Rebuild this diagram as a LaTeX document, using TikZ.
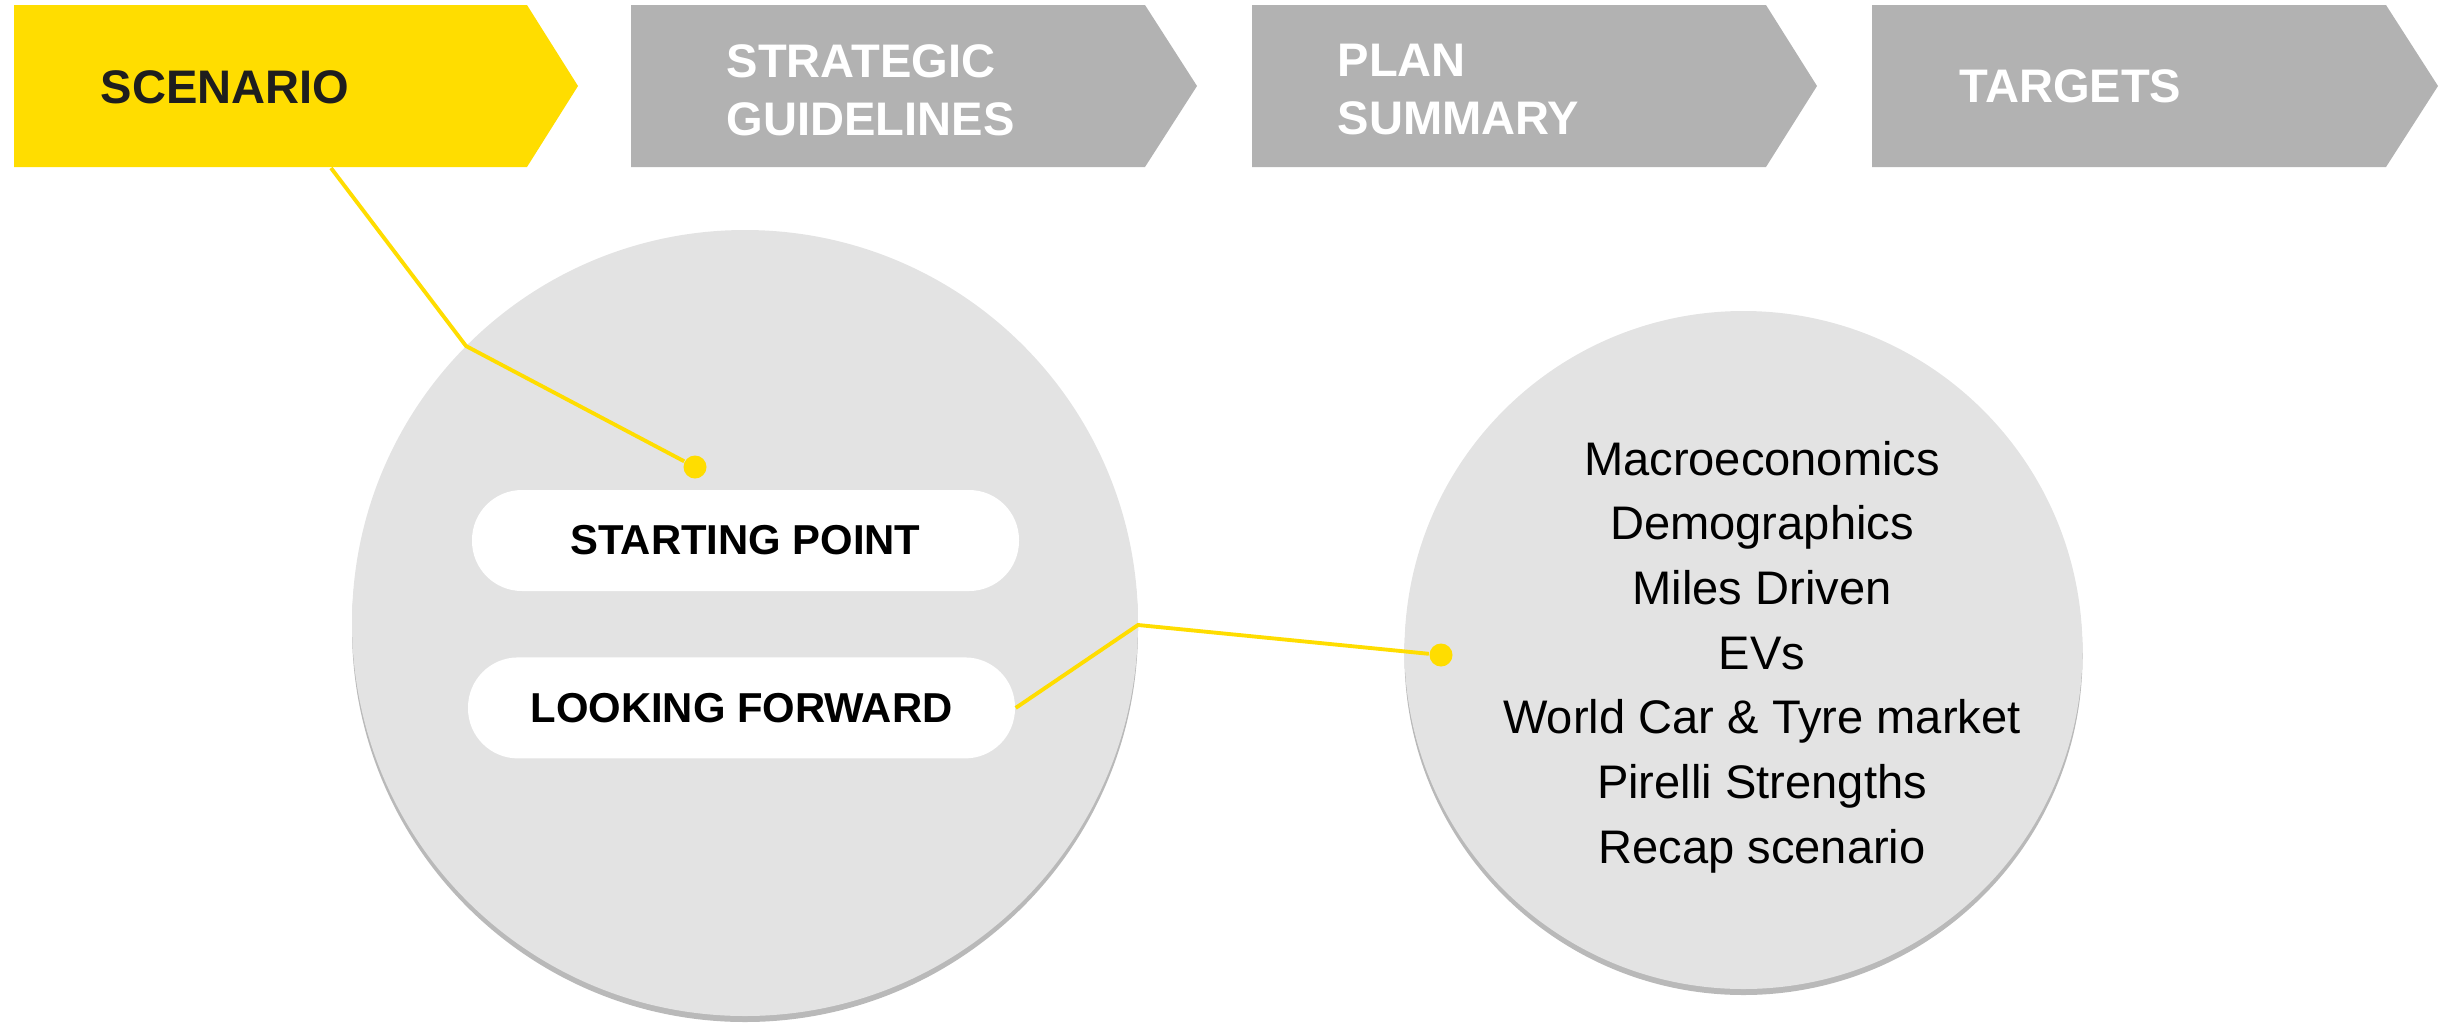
\documentclass[tikz,border=0pt]{standalone}
\usepackage{fontspec}
\setmainfont{Liberation Sans}
\usepackage{tikz}
\usetikzlibrary{positioning, shadows}

\definecolor{ylw}{HTML}{FFDD00}
\definecolor{grybox}{HTML}{B2B2B2}
\definecolor{grycirc}{HTML}{E3E3E3}
\definecolor{txtdark}{HTML}{1E1E1E}

\begin{document}
\begin{tikzpicture}[auto,node distance=6.5mm,>=latex,font=\fontsize{13.4pt}{16.5pt}\selectfont]

	\tikzstyle{chev}=[fill=grybox]
	\tikzstyle{head}=[anchor=west,inner sep=0,align=left,font=\fontsize{13.4pt}{16.5pt}\selectfont\bfseries,text=white]
	\tikzstyle{round}=[circle,fill=grycirc,inner sep=0,drop shadow={shadow xshift=0pt,shadow yshift=-0.06cm,opacity=0.5,fill=black!55}]
	\tikzstyle{pill}=[fill=white,rounded corners=0.5cm,minimum width=5.47cm,minimum height=1.01cm,inner sep=0,font=\fontsize{11.9pt}{14pt}\selectfont\bfseries]
	\tikzstyle{link}=[draw=ylw,line width=1.1pt]
	\tikzstyle{dot}=[circle,fill=ylw,inner sep=0,minimum size=0.23cm]

	\useasboundingbox (0,0) rectangle (24.5,-10.24);

	% chevrons
	\fill[ylw] (0.14,-0.05) -- (5.27,-0.05) -- (5.78,-0.86) -- (5.27,-1.67) -- (0.14,-1.67) -- cycle;
	\fill[chev] (6.31,-0.05) -- (11.45,-0.05) -- (11.97,-0.86) -- (11.45,-1.67) -- (6.31,-1.67) -- cycle;
	\fill[chev] (12.52,-0.05) -- (17.66,-0.05) -- (18.17,-0.86) -- (17.66,-1.67) -- (12.52,-1.67) -- cycle;
	\fill[chev] (18.72,-0.05) -- (23.86,-0.05) -- (24.38,-0.86) -- (23.86,-1.67) -- (18.72,-1.67) -- cycle;

	\node[head,text=txtdark] (k1) at (1.00,-0.87) {SCENARIO};
	\node[head] (k2) at (7.26,-0.90) {STRATEGIC\\GUIDELINES};
	\node[head] (k3) at (13.37,-0.90) {PLAN\\SUMMARY};
	\node[head] (k4) at (19.59,-0.86) {TARGETS};

	% circles
	\node[round,minimum size=7.86cm] (c1) at (7.45,-6.23) {};
	\node[round,minimum size=6.78cm] (c2) at (17.435,-6.50) {};

	\node[pill] (p1) at (7.455,-5.405) {STARTING POINT};
	\node[pill,below=6.5mm of p1,xshift=-0.04cm] (p2) {LOOKING FORWARD};

	\node[align=center,inner sep=0,font=\fontsize{13.4pt}{18.4pt}\selectfont] (t1) at (17.62,-6.57)
		{Macroeconomics\\Demographics\\Miles Driven\\EVs\\World Car \& Tyre market\\Pirelli Strengths\\Recap scenario};

	% connectors
	\coordinate (a1) at (3.31,-1.68);
	\coordinate (b1) at (4.66,-3.46);
	\coordinate (b2) at (11.38,-6.25);
	\node[dot] (d1) at (6.95,-4.67) {};
	\node[dot] (d2) at (14.41,-6.55) {};

	\draw[link] (a1) -- (b1) -- (d1);
	\draw[link] (p2.east) -- (b2) -- (d2);
\end{tikzpicture}
\end{document}
